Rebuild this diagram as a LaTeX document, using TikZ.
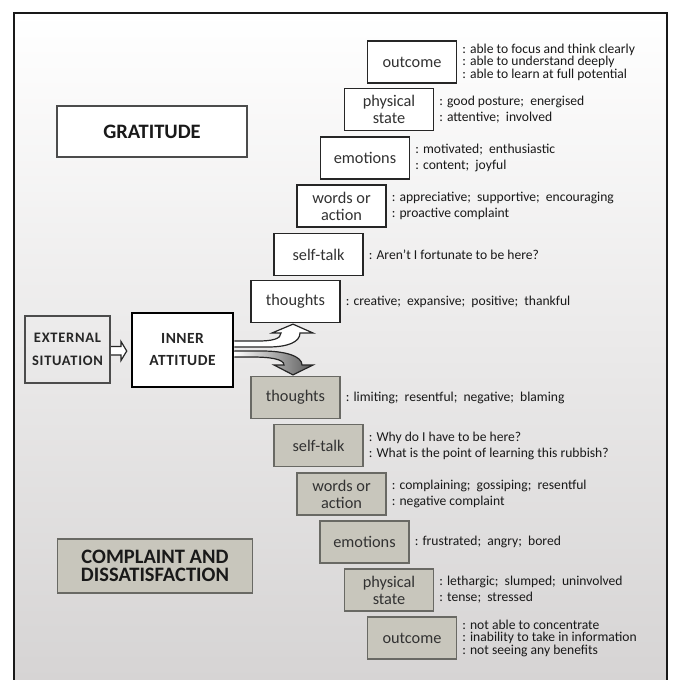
\documentclass[tikz,border=0pt]{standalone}
\usepackage{fontspec}
\setmainfont{Carlito}
\usetikzlibrary{calc}
\definecolor{gfill}{RGB}{200,198,188}
\definecolor{gdraw}{RGB}{105,105,100}
\definecolor{bgb}{RGB}{214,212,212}
\definecolor{bgm}{RGB}{238,238,238}
\definecolor{tx}{RGB}{50,50,50}
\newcommand\tightls{\lineskiplimit-20pt\relax}
\pgfdeclarelayer{bglayer}
\pgfdeclarelayer{arrlayer}
\pgfsetlayers{bglayer,arrlayer,main}
\begin{document}
\begin{tikzpicture}[x=1pt,y=-1pt,
 box/.style={minimum width=89pt,minimum height=42pt,inner sep=0pt,align=center,
   font=\fontsize{16.3}{17}\selectfont,text=tx,line width=1.3pt},
 wbox/.style={box,draw=black!85,fill=white},
 gbox/.style={box,draw=gdraw,fill=gfill},
 side/.style={anchor=west,inner sep=0pt,align=left,text=black!90,
   font=\fontsize{13.6}{16}\selectfont\tightls},
 sidethree/.style={side,font=\fontsize{13.6}{12.5}\selectfont\tightls},
 headbox/.style={inner sep=0pt,align=center,text=black!90,line width=1.5pt,
   font=\bfseries\fontsize{20.5}{18.5}\selectfont\tightls},
 smallhead/.style={inner sep=0pt,align=center,text=black!85,
   font=\bfseries\fontsize{14.5}{23}\selectfont\addfontfeatures{LetterSpace=5}},
 hollowarrow/.style={line width=1.2pt,draw=black!85,line join=miter},
]
\useasboundingbox (0,0) rectangle (673,680);
\clip (0,0) rectangle (673,680);

% background
\begin{pgfonlayer}{bglayer}
\fill[white] (0,0) rectangle (673,680);
\fill[top color=white,middle color=bgm,bottom color=bgb] (14,13) rectangle (667,680);
\end{pgfonlayer}

% headings
\node[headbox,draw=black!70,fill=white,minimum width=190pt,minimum height=51pt] (grat) at (152,131.5) {GRATITUDE};
\node[headbox,draw=gdraw,fill=gfill,minimum width=195pt,minimum height=54pt] (compl) at (155,566) {COMPLAINT AND\\DISSATISFACTION};

% external and inner
\node[smallhead,draw=black!70,line width=1.3pt,minimum width=85pt,minimum height=67pt] (ext) at (67.5,349.5) {EXTERNAL\\SITUATION};
\node[smallhead,draw=black,fill=white,line width=2.5pt,minimum width=101pt,minimum height=74pt,
  font=\bfseries\fontsize{15.5}{22}\selectfont\addfontfeatures{LetterSpace=3}] (inner) at (182.5,350) {INNER\\ATTITUDE};

% white stack
\node[wbox] (wout) at (412,62) {outcome};
\node[wbox] (wphy) at (389,109.5) {physical\\state};
\node[wbox] (wemo) at (365,158) {emotions};
\node[wbox] (wwor) at (341.5,206) {words or\\action};
\node[wbox] (wsel) at (318.5,254.5) {self-talk};
\node[wbox] (wtho) at (295.5,301.5) {thoughts};

\node[sidethree] (wouttx) at ([xshift=5pt]wout.east) {: able to focus and think clearly\\: able to understand deeply\\: able to learn at full potential};
\node[side] (wphytx) at ([xshift=5pt]wphy.east) {: good posture;\ \ energised\\: attentive;\ \ involved};
\node[side] (wemotx) at ([xshift=5pt]wemo.east) {: motivated;\ \ enthusiastic\\: content;\ \ joyful};
\node[side] (wwortx) at ([xshift=5pt]wwor.east) {: appreciative;\ \ supportive;\ \ encouraging\\: proactive complaint};
\node[side] (wseltx) at ([xshift=5pt]wsel.east) {: Aren’t I fortunate to be here?};
\node[side] (wthotx) at ([xshift=5pt]wtho.east) {: creative;\ \ expansive;\ \ positive;\ \ thankful};

% grey stack
\node[gbox] (gtho) at (295.5,397.5) {thoughts};
\node[gbox] (gsel) at (318.5,445.5) {self-talk};
\node[gbox] (gwor) at (341.5,494) {words or\\action};
\node[gbox] (gemo) at (364.5,542) {emotions};
\node[gbox] (gphy) at (389,590) {physical\\state};
\node[gbox] (gout) at (412,638) {outcome};

\node[side] (gthotx) at ([xshift=5pt]gtho.east) {: limiting;\ \ resentful;\ \ negative;\ \ blaming};
\node[side] (gseltx) at ([xshift=5pt]gsel.east) {: Why do I have to be here?\\: What is the point of learning this rubbish?};
\node[side] (gwortx) at ([xshift=5pt]gwor.east) {: complaining;\ \ gossiping;\ \ resentful\\: negative complaint};
\node[side] (gemotx) at ([xshift=5pt]gemo.east) {: frustrated;\ \ angry;\ \ bored};
\node[side] (gphytx) at ([xshift=5pt]gphy.east) {: lethargic;\ \ slumped;\ \ uninvolved\\: tense;\ \ stressed};
\node[sidethree] (gouttx) at ([xshift=5pt]gout.east) {: not able to concentrate\\: inability to take in information\\: not seeing any benefits};

% arrows
\begin{pgfonlayer}{arrlayer}
% external -> inner
\filldraw[hollowarrow,fill=white]
  ($(ext.east)+(0,-3)$) -- (121,346.5) -- (121,341.5) -- ($(inner.west)+(-4,1)$)
  -- (121,360.5) -- (121,355) -- ($(ext.east)+(0,5.5)$);
% inner -> white thoughts
\filldraw[hollowarrow,fill=white]
  ($(inner.east)+(0,-9)$) -- (258,341) .. controls (272,341) and (281,339) .. (281,333)
  -- (272,333) -- ($(wtho.south)+(-2.5,1)$) -- (313,333) -- (300,333)
  .. controls (300,342) and (288,347) .. (268,347) -- ($(inner.east)+(0,-3)$);
% inner -> grey thoughts
\filldraw[hollowarrow,left color=white,right color=black!65]
  ($(inner.east)+(0,1)$) -- (262,351) .. controls (285,351) and (302,356) .. (302,365)
  -- (313,365) -- ($(gtho.north)+(-2.5,-1)$) -- (274,365) -- (284,365)
  .. controls (284,359) and (270,357) .. (252,357) -- ($(inner.east)+(0,7)$);
\end{pgfonlayer}

% frame
\draw[line width=2pt,black!90] (14,690) -- (14,13) -- (667,13) -- (667,690);
\end{tikzpicture}
\end{document}
